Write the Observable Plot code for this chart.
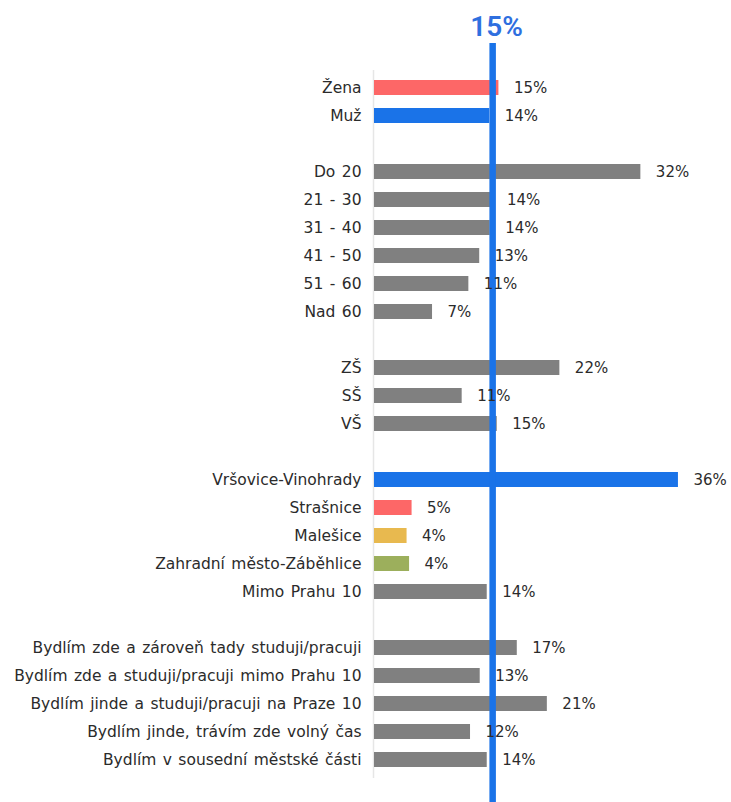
<!DOCTYPE html>
<html>
<head>
<meta charset="utf-8">
<script src="https://cdn.jsdelivr.net/npm/d3@7"></script>
<script src="https://cdn.jsdelivr.net/npm/@observablehq/plot@0.6"></script>
<style>
  html, body { margin: 0; padding: 0; background: #fff; }
  #chart svg { display: block; }
  #chart svg text { word-spacing: 1.5px; }
</style>
</head>
<body>
<div id="chart"></div>
<script>
// Categories (blank entries are group spacers)
const categories = [
  "Žena", "Muž", "",
  "Do 20", "21 - 30", "31 - 40", "41 - 50", "51 - 60", "Nad 60", "",
  "ZŠ", "SŠ", "VŠ", "",
  "Vršovice-Vinohrady", "Strašnice", "Malešice", "Zahradní město-Záběhlice", "Mimo Prahu 10", "",
  "Bydlím zde a zároveň tady studuji/pracuji",
  "Bydlím zde a studuji/pracuji mimo Prahu 10",
  "Bydlím jinde a studuji/pracuji na Praze 10",
  "Bydlím jinde, trávím zde volný čas",
  "Bydlím v sousední městské části"
];
// Values in percent (null = spacer row)
const values = [
  14.9, 13.8, null,
  31.9, 14.06, 13.86, 12.6, 11.3, 6.95, null,
  22.2, 10.5, 14.7, null,
  36.4, 4.5, 3.9, 4.2, 13.5, null,
  17.1, 12.66, 20.7, 11.5, 13.5
];
const colors = [
  "#fd6767", "#1a73e8", null,
  "#808080", "#808080", "#808080", "#808080", "#808080", "#808080", null,
  "#808080", "#808080", "#808080", null,
  "#1a73e8", "#fd6767", "#e8b94f", "#9caf5c", "#808080", null,
  "#808080", "#808080", "#808080", "#808080", "#808080"
];
const referenceValue = 14.15;
const referenceLabel = "15%";

const keys = categories.map((c, i) => c === "" ? "__gap" + i : c);
const rows = keys.map((k, i) => ({key: k, label: categories[i], value: values[i], color: colors[i]}))
  .filter(d => d.value != null);

const labelFont = "'DejaVu Sans', sans-serif";

const chart = Plot.plot({
  width: 731,
  height: 802,
  marginLeft: 374,
  marginRight: 23,
  marginTop: 64,
  marginBottom: 18,
  style: {fontFamily: labelFont, background: "#fff"},
  x: {domain: [0, 40], axis: null},
  y: {domain: keys, axis: null, padding: 0.46},
  marks: [
    Plot.ruleX([0], {stroke: "#e6e6e6", strokeWidth: 1.5, dx: -1, insetTop: 6, insetBottom: 6}),
    Plot.barX(rows, {y: "key", x: "value", fill: "color"}),
    Plot.ruleX([referenceValue], {stroke: "#1a73e8", strokeWidth: 6.5, insetTop: -21, insetBottom: -20}),
    Plot.text([referenceValue], {x: d => d, frameAnchor: "top", dy: -48, dx: 4, text: () => referenceLabel,
      fill: "#2f6fdf", fontSize: 28, fontWeight: 600, fontFamily: "Roboto, sans-serif", lineAnchor: "top"}),
    Plot.text(rows, {y: "key", x: 0, text: "label", textAnchor: "end", dx: -13, fontSize: 15.5, fill: "#2b2b2b"}),
    Plot.text(rows, {y: "key", x: "value", text: d => Math.round(d.value) + "%", textAnchor: "start", dx: 15, fontSize: 15, fill: "#2b2b2b"})
  ]
});
document.getElementById("chart").appendChild(chart);
</script>
</body>
</html>
